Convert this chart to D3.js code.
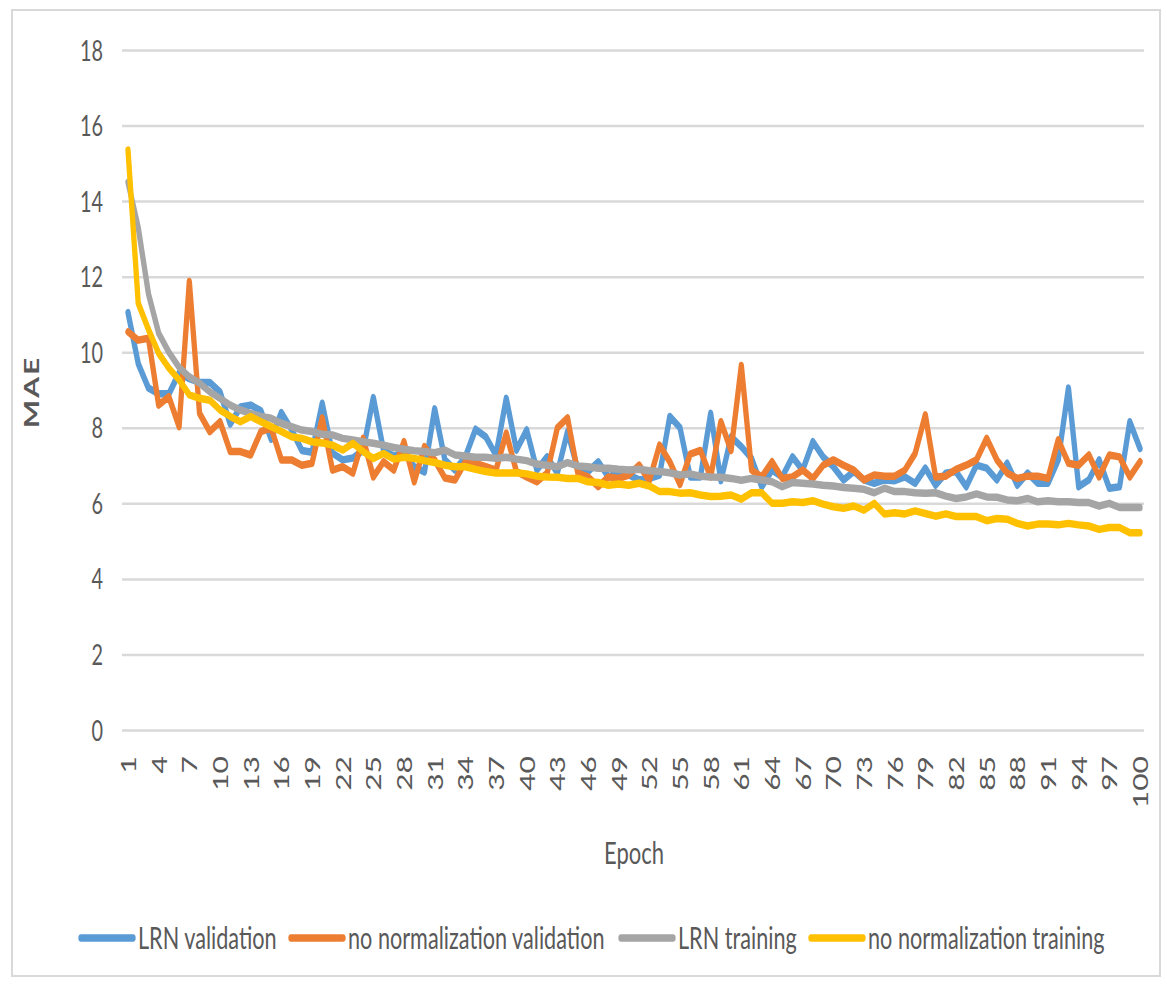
<!DOCTYPE html>
<html>
<head>
<meta charset="utf-8">
<script src="https://cdn.jsdelivr.net/npm/d3@7"></script>
<style>
  html, body { margin: 0; padding: 0; background: #fff; }
  svg { display: block; }
  text { font-family: Lato, "Open Sans", "DejaVu Sans", sans-serif; }
</style>
</head>
<body>
<svg id="chart" width="1167" height="985"></svg>
<script>
// ---------------- DATA ----------------
const epochs = d3.range(1, 101);
const xTickLabels = [1,4,7,10,13,16,19,22,25,28,31,34,37,40,43,46,49,52,55,58,61,64,67,70,73,76,79,82,85,88,91,94,97,100];
const yTickLabels = [0,2,4,6,8,10,12,14,16,18];
const seriesNames = ["LRN validation", "no normalization validation", "LRN training", "no normalization training"];

const lrnValidation = [
  11.05, 9.7, 9.05, 8.9, 8.9, 9.45, 9.3, 9.2, 9.2, 8.95,
  8.1, 8.55, 8.6, 8.45, 7.7, 8.4, 7.95, 7.4, 7.35, 8.65,
  7.33, 7.15, 7.2, 7.4, 8.8, 7.4, 7.25, 7.33, 6.97, 6.83,
  8.5, 7.15, 6.88, 7.23, 7.96, 7.76, 7.28, 8.78, 7.41, 7.94,
  6.88, 7.23, 6.8, 7.9, 6.9, 6.84, 7.1, 6.7, 6.8, 6.75,
  6.62, 6.66, 6.75, 8.3, 8.0, 6.7, 6.7, 8.38, 6.6, 7.76,
  7.5, 7.19, 6.44, 6.88, 6.7, 7.23, 6.88, 7.63, 7.23, 6.97,
  6.62, 6.84, 6.62, 6.53, 6.62, 6.6, 6.7, 6.53, 6.93, 6.48,
  6.8, 6.84, 6.44, 7.01, 6.93, 6.62, 7.06, 6.48, 6.8, 6.53,
  6.53, 7.15, 9.05, 6.44, 6.62, 7.15, 6.4, 6.44, 8.16, 7.45
];
const noNormValidation = [
  10.54, 10.32, 10.37, 8.6, 8.82, 8.03, 11.87, 8.38, 7.9, 8.16,
  7.37, 7.37, 7.28, 7.9, 8.0, 7.15, 7.15, 7.01, 7.06, 8.26,
  6.88, 6.97, 6.8, 7.72, 6.7, 7.1, 6.88, 7.63, 6.57, 7.5,
  7.15, 6.67, 6.62, 7.1, 7.06, 6.97, 6.88, 7.86, 6.84, 6.7,
  6.57, 6.8, 8.0, 8.26, 6.8, 6.7, 6.44, 6.7, 6.66, 6.75,
  7.01, 6.6, 7.54, 7.1, 6.5, 7.3, 7.4, 6.7, 8.16, 7.4,
  9.65, 6.88, 6.7, 7.1, 6.66, 6.7, 6.88, 6.66, 7.01, 7.15,
  7.01, 6.88, 6.62, 6.75, 6.72, 6.72, 6.88, 7.32, 8.34, 6.7,
  6.72, 6.9, 7.01, 7.15, 7.72, 7.15, 6.8, 6.66, 6.72, 6.72,
  6.66, 7.68, 7.06, 7.01, 7.28, 6.7, 7.28, 7.23, 6.7, 7.1
];
const lrnTraining = [
  14.5, 13.3, 11.55, 10.5, 10.0, 9.6, 9.35, 9.18, 8.95, 8.78,
  8.6, 8.47, 8.38, 8.3, 8.25, 8.12, 8.03, 7.94, 7.9, 7.83,
  7.81, 7.72, 7.68, 7.63, 7.59, 7.54, 7.48, 7.43, 7.39, 7.37,
  7.34, 7.41, 7.28, 7.25, 7.22, 7.22, 7.19, 7.22, 7.17, 7.13,
  7.04, 7.01, 6.97, 7.08, 6.99, 6.97, 6.93, 6.93, 6.9, 6.88,
  6.9, 6.86, 6.84, 6.81, 6.75, 6.78, 6.72, 6.7, 6.69, 6.66,
  6.61, 6.66, 6.62, 6.57, 6.44, 6.55, 6.53, 6.51, 6.48, 6.46,
  6.42, 6.4, 6.37, 6.28, 6.4, 6.31, 6.31, 6.28, 6.27, 6.28,
  6.19, 6.13, 6.17, 6.25, 6.17, 6.16, 6.09, 6.07, 6.13, 6.04,
  6.07, 6.04, 6.04, 6.02, 6.02, 5.93, 6.0, 5.89, 5.89, 5.89
];
const noNormTraining = [
  15.35, 11.3, 10.6, 9.97, 9.58, 9.27, 8.87, 8.78, 8.73, 8.47,
  8.3, 8.16, 8.3, 8.16, 8.03, 7.9, 7.76, 7.72, 7.63, 7.6,
  7.54, 7.41, 7.59, 7.37, 7.19, 7.32, 7.17, 7.22, 7.19, 7.13,
  7.08, 7.01, 6.97, 6.97, 6.9, 6.84, 6.8, 6.8, 6.81, 6.78,
  6.72, 6.7, 6.69, 6.66, 6.66, 6.57, 6.55, 6.48, 6.51, 6.48,
  6.53, 6.46, 6.31, 6.31, 6.27, 6.28, 6.22, 6.18, 6.19, 6.22,
  6.11, 6.28, 6.28, 6.0, 6.0, 6.04, 6.02, 6.07, 5.98, 5.91,
  5.87, 5.93, 5.82, 6.0, 5.72, 5.75, 5.72, 5.8, 5.73, 5.66,
  5.72, 5.65, 5.65, 5.65, 5.54, 5.6, 5.58, 5.47, 5.4, 5.45,
  5.45, 5.43, 5.47, 5.43, 5.4, 5.31, 5.36, 5.36, 5.22, 5.22
];
const seriesColors = ["#5b9bd5", "#ed7d31", "#a5a5a5", "#ffc000"];

// ---------------- DRAW ----------------
const SX = 0.71;               // horizontal squeeze of the whole picture
const X = px => px / SX;       // screen px -> unsqueezed coordinate

const svg = d3.select("#chart");
// outer frame
svg.append("rect")
  .attr("x", 12).attr("y", 10).attr("width", 1148).attr("height", 966)
  .attr("fill", "none").attr("stroke", "#d9d9d9").attr("stroke-width", 2);

const g = svg.append("g").attr("transform", `scale(${SX},1)`);

const x = d3.scalePoint().domain(epochs).range([X(128), X(1140)]);
const y = d3.scaleLinear().domain([0, 18]).range([730, 50]);

// gridlines
g.append("g")
  .attr("transform", `translate(${X(122)},0)`)
  .call(d3.axisLeft(y).tickValues(yTickLabels).tickSize(-(X(1144) - X(122))).tickFormat(""))
  .call(a => a.select(".domain").remove())
  .call(a => a.selectAll("line").attr("stroke", "#d9d9d9").attr("stroke-width", 2.5));

// y tick labels
g.append("g")
  .attr("transform", `translate(${X(103)},0)`)
  .call(d3.axisLeft(y).tickValues(yTickLabels).tickSize(0).tickPadding(0))
  .call(a => a.select(".domain").remove())
  .call(a => a.selectAll("text")
    .attr("font-family", "Lato, 'Open Sans', sans-serif")
    .attr("font-size", 28).attr("fill", "#595959").attr("dy", "0.36em"));

// x tick labels
g.append("g")
  .attr("transform", "translate(0,730)")
  .call(d3.axisBottom(x).tickValues(xTickLabels).tickSize(0))
  .call(a => a.select(".domain").remove())
  .call(a => a.selectAll("text")
    .attr("font-family", "Lato, 'Open Sans', sans-serif")
    .attr("font-size", 30).attr("fill", "#595959")
    .attr("transform", "rotate(-90)")
    .attr("text-anchor", "end")
    .attr("x", -26).attr("y", 0).attr("dy", "0.36em"));

// lines
const allSeries = [lrnValidation, noNormValidation, lrnTraining, noNormTraining];
const line = d3.line().x((d, i) => x(epochs[i])).y(d => y(d));
g.append("g").selectAll("path").data(allSeries).join("path")
  .attr("d", line)
  .attr("fill", "none")
  .attr("stroke", (d, i) => seriesColors[i])
  .attr("stroke-width", 7.5)
  .attr("stroke-linejoin", "round")
  .attr("stroke-linecap", "round");

// axis titles
g.append("text")
  .attr("x", X(634)).attr("y", 864)
  .attr("text-anchor", "middle")
  .attr("font-size", 31).attr("fill", "#595959")
  .text("Epoch");

g.append("text")
  .attr("transform", `translate(${X(39)},392) rotate(-90)`)
  .attr("text-anchor", "middle")
  .attr("font-size", 30).attr("font-weight", "bold")
  .attr("letter-spacing", 2)
  .attr("fill", "#595959")
  .text("MAE");

// legend
const legendX = [81, 291, 621, 811];
const leg = g.append("g").selectAll("g").data(seriesNames).join("g");
leg.append("line")
  .attr("x1", (d, i) => X(legendX[i])).attr("x2", (d, i) => X(legendX[i] + 52))
  .attr("y1", 938).attr("y2", 938)
  .attr("stroke", (d, i) => seriesColors[i])
  .attr("stroke-width", 7.5).attr("stroke-linecap", "round");
leg.append("text")
  .attr("x", (d, i) => X(legendX[i] + 57)).attr("y", 938)
  .attr("dy", "0.36em")
  .attr("font-size", 30.5).attr("fill", "#595959")
  .text(d => d);
</script>
</body>
</html>
